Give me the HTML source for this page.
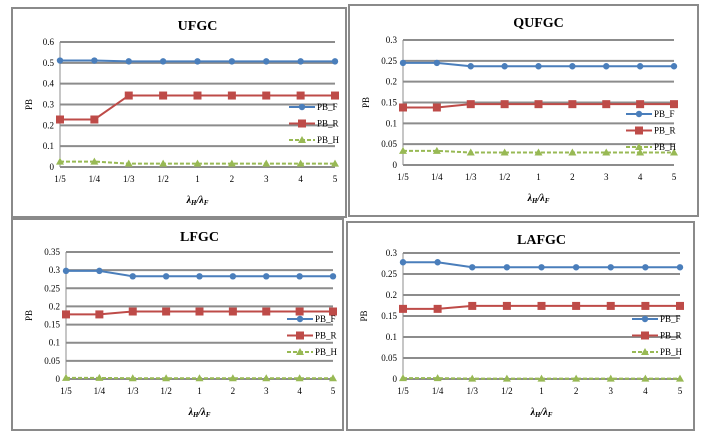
<!DOCTYPE html><html><head><style>body{margin:0;background:#fff}svg{display:block}</style></head><body>
<svg id="s" width="710" height="444" xmlns="http://www.w3.org/2000/svg" font-family="Liberation Serif, serif"></svg>
<script>
const s=document.getElementById('s');let h='';
const cats=['1/5','1/4','1/3','1/2','1','2','3','4','5'];
function panel(p){
 h+=`<rect x="${p.bx}" y="${p.by}" width="${p.bw}" height="${p.bh}" fill="#fff" stroke="#8a8a8a" stroke-width="2"/>`;
 h+=`<text x="${(p.x0+p.x1)/2}" y="${p.by+22}" text-anchor="middle" font-size="14" font-weight="bold">${p.t}</text>`;
 const n=Math.round(p.max/p.step);const Y=v=>p.y0-(p.y0-p.yt)*v/p.max;const X=i=>p.x0+(p.x1-p.x0)*i/8;
 for(let k=0;k<=n;k++){const y=Y(k*p.step);h+=`<line x1="${p.x0}" x2="${p.x1}" y1="${y}" y2="${y}" stroke="#8c8c8c" stroke-width="2"/>`;
  const lab=+(k*p.step).toFixed(2);h+=`<text x="${p.x0-6}" y="${y+3}" text-anchor="end" font-size="9">${lab}</text>`;}
 h+=`<line x1="${p.x0}" x2="${p.x0}" y1="${p.yt}" y2="${p.y0}" stroke="#8c8c8c" stroke-width="1"/>`;
 cats.forEach((c,i)=>h+=`<text x="${X(i)}" y="${p.y0+15}" text-anchor="middle" font-size="9">${c}</text>`);
 h+=`<text x="${(p.x0+p.x1)/2}" y="${p.y0+36}" text-anchor="middle" font-size="10" font-weight="bold" font-style="italic">λ<tspan font-size="7" dy="2">H</tspan><tspan dy="-2">/λ</tspan><tspan font-size="7" dy="2">F</tspan></text>`;
 h+=`<text transform="translate(${p.bx+20},${(p.y0+p.yt)/2}) rotate(-90)" text-anchor="middle" font-size="9">PB</text>`;
 const ser=[[p.F,'#4a7ebb','d'],[p.R,'#be4b48','s'],[p.H,'#98b954','t']];
 ser.forEach(([d,c,m],si)=>{
  const pts=d.map((v,i)=>X(i)+','+Y(v)).join(' ');
  h+=`<polyline points="${pts}" fill="none" stroke="${c}" stroke-width="2" ${m=='t'?'stroke-dasharray="4,2"':''}/>`;
  d.forEach((v,i)=>h+=mk(X(i),Y(v),c,m));
  const ly=p.ly+si*16.5;
  h+=`<line x1="${p.lx}" x2="${p.lx+26}" y1="${ly}" y2="${ly}" stroke="${c}" stroke-width="2" ${m=='t'?'stroke-dasharray="4,2"':''}/>`+mk(p.lx+13,ly,c,m);
  h+=`<text x="${p.lx+28}" y="${ly+3}" font-size="9">${['PB_F','PB_R','PB_H'][si]}</text>`;
 });
}
function mk(x,y,c,m){if(m=='d')return `<circle cx="${x}" cy="${y}" r="3.2" fill="${c}"/>`;
 if(m=='s')return `<rect x="${x-4}" y="${y-4}" width="8" height="8" fill="${c}"/>`;
 return `<polygon points="${x},${y-4} ${x+4},${y+3} ${x-4},${y+3}" fill="${c}"/>`;}
const r=(a,b,n=7)=>[a,a,...Array(n).fill(b)];
panel({bx:12,by:8,bw:334,bh:209,t:'UFGC',x0:60,x1:335,y0:167,yt:42,max:.6,step:.1,F:r(.511,.507),R:r(.228,.343),H:r(.026,.016),lx:289,ly:107});
panel({bx:349,by:5,bw:349,bh:211,t:'QUFGC',x0:403,x1:674,y0:165,yt:40,max:.3,step:.05,F:r(.245,.237),R:r(.138,.146),H:r(.034,.03),lx:626,ly:114});
panel({bx:12,by:219,bw:331,bh:211,t:'LFGC',x0:66,x1:333,y0:379,yt:252,max:.35,step:.05,F:r(.298,.283),R:r(.178,.186),H:r(.003,.002),lx:287,ly:319});
panel({bx:347,by:222,bw:347,bh:208,t:'LAFGC',x0:403,x1:680,y0:379,yt:253,max:.3,step:.05,F:r(.278,.266),R:r(.167,.174),H:r(.002,.001),lx:632,ly:319});
s.innerHTML=h;
</script></body></html>
